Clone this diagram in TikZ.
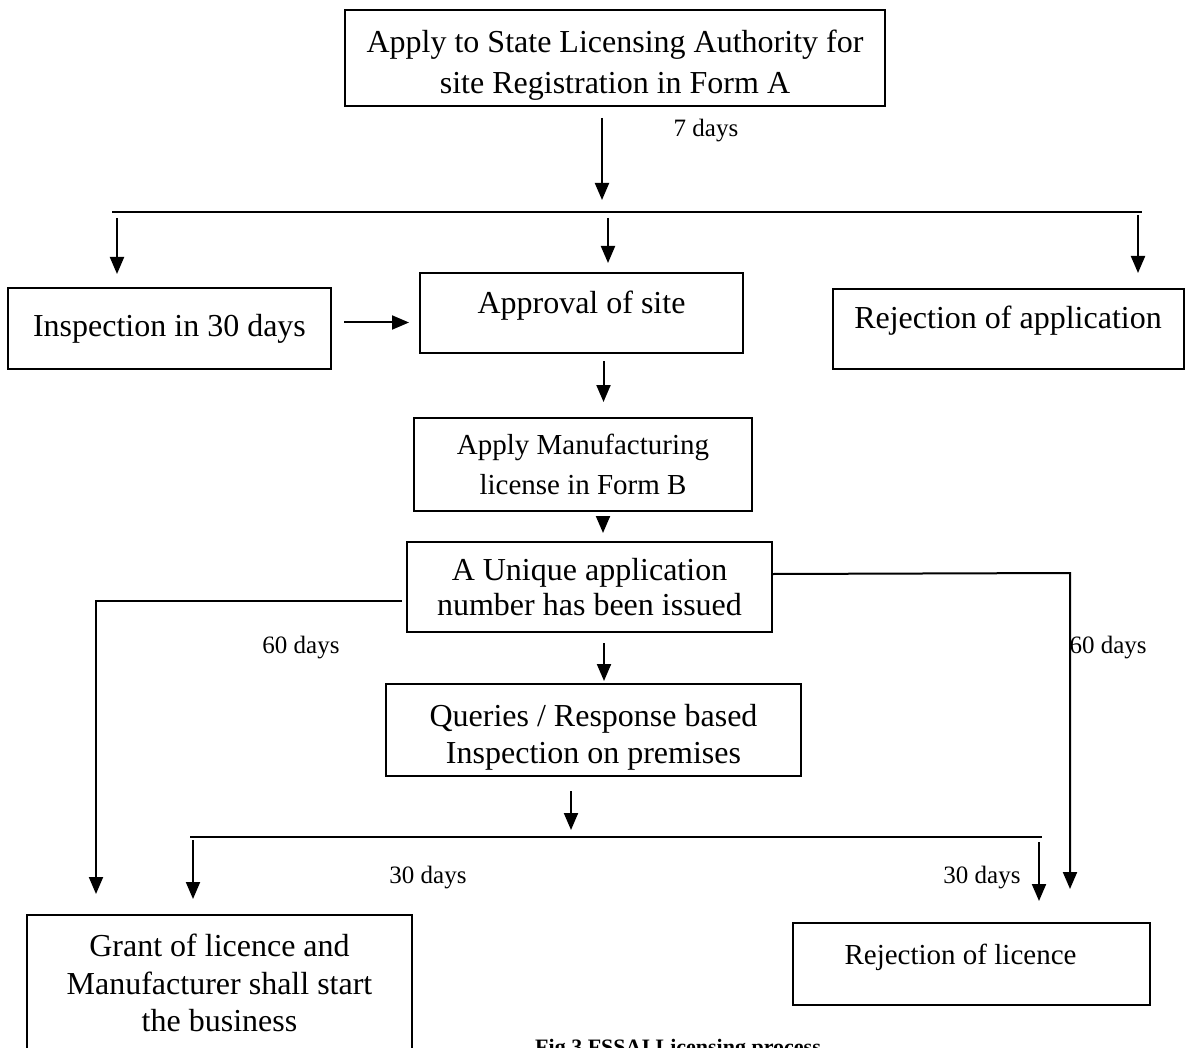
\documentclass[tikz,border=0pt]{standalone}
\usepackage{fontspec}
\setmainfont{Liberation Serif}
\usetikzlibrary{positioning,calc,arrows.meta}

\newcommand{\padtop}[1]{\rule{0pt}{#1}}

\begin{document}
\begin{tikzpicture}[x=1pt, y=-1pt,
    box/.style={draw, line width=2pt, align=center, inner sep=0pt, font=\fontsize{32}{38}\selectfont},
    raised/.style={text height=22pt, text depth=22pt},
    arr/.style={-{Triangle[length=17pt,width=14pt]}, line width=2pt},
    bus/.style={line width=2.2pt},
    days/.style={font=\fontsize{25}{30}\selectfont}]
    \useasboundingbox (0,0) rectangle (1185,1048);

    % boxes
    \node[box, minimum width=540pt, minimum height=96pt, font=\fontsize{32}{41}\selectfont] (apply) at (615,58)
        {\padtop{36pt}Apply to State Licensing Authority for\\site Registration in Form A};
    \node[box, minimum width=323pt, minimum height=81pt] (insp) at (169.5,328.5) {Inspection in 30 days};
    \node[box, raised, minimum width=323pt, minimum height=80pt] (site) at (581.5,313) {Approval of site};
    \node[box, raised, minimum width=351pt, minimum height=80pt] (rejapp) at (1008,329) {Rejection of application};
    \node[box, minimum width=338pt, minimum height=93pt, font=\fontsize{29}{40}\selectfont] (formb) at (583,464.5)
        {Apply Manufacturing\\license in Form B};
    \node[box, minimum width=365pt, minimum height=90pt, font=\fontsize{32}{35}\selectfont] (unique) at (589.5,587)
        {A Unique application\\number has been issued};
    \node[box, minimum width=415pt, minimum height=92pt, font=\fontsize{32}{37}\selectfont] (query) at (593.5,730)
        {\padtop{36pt}Queries / Response based\\Inspection on premises};
    \node[box, minimum width=385pt, minimum height=136pt, font=\fontsize{32}{37.5}\selectfont] (grant) at (219.5,983)
        {Grant of licence and\\Manufacturer shall start\\the business};
    \node[box, raised, minimum width=357pt, minimum height=82pt, font=\fontsize{29}{35}\selectfont] (rejlic) at (971.5,964)
        {Rejection of licence\hspace*{22pt}};

    % split after form A
    \coordinate (busAl) at (112,212);
    \coordinate (busAr) at (1142,212);
    \coordinate (inA) at (602,212);
    \coordinate (outA1) at (117,212);
    \coordinate (outA2) at (608,212);
    \coordinate (outA3) at (1138,212);
    \draw[bus] (busAl) -- (busAr);
    \draw[arr, shorten <=11pt, shorten >=12pt] (apply.south -| inA) -- (inA);
    \draw[arr, shorten <=6pt, shorten >=13pt] (outA1) -- (outA1 |- insp.north);
    \draw[arr, shorten <=6pt, shorten >=9pt] (outA2) -- (outA2 |- site.north);
    \draw[arr, shorten <=3pt, shorten >=15pt] (outA3) -- (outA3 |- rejapp.north);
    \node[days] (d7) at (706,131) {7 days};

    % site to licence
    \draw[arr, shorten <=12pt, shorten >=10pt] ([yshift=6pt]insp.east) -- ([yshift=6pt]insp.east -| site.west);
    \draw[arr, shorten <=7pt, shorten >=15pt] ([xshift=22pt]site.south) -- ([xshift=22pt]site.south |- formb.north);
    \draw[arr, shorten <=7pt, shorten >=8pt] ([xshift=20pt]formb.south) -- ([xshift=20pt]formb.south |- unique.north);
    \draw[arr, shorten <=10pt, shorten >=2pt] ([xshift=14.5pt]unique.south) -- ([xshift=14.5pt]unique.south |- query.north);

    % 60 days branches
    \coordinate (turnL) at (96,601);
    \coordinate (turnR) at (1070,573);
    \draw[arr, shorten >=20pt] ([yshift=-14pt, xshift=-4pt]unique.west) -- (turnL) -- (turnL |- grant.north);
    \draw[arr, shorten >=33pt] ([yshift=13pt]unique.east) -- (turnR) -- (turnR |- rejlic.north);
    \node[days] (d60l) at (301,648) {60 days};
    \node[days, anchor=west] (d60r) at (1066,648) {60 days};

    % split after inspection
    \coordinate (busBl) at (190,837);
    \coordinate (busBr) at (1042,837);
    \coordinate (inB) at (571,837);
    \coordinate (outB1) at (193,837);
    \coordinate (outB2) at (1039,837);
    \draw[bus] (busBl) -- (busBr);
    \draw[arr, shorten <=14pt, shorten >=7pt] (query.south -| inB) -- (inB);
    \draw[arr, shorten <=3pt, shorten >=15pt] (outB1) -- (outB1 |- grant.north);
    \draw[arr, shorten <=5pt, shorten >=21pt] (outB2) -- (outB2 |- rejlic.north);
    \node[days] (d30l) at (428,878) {30 days};
    \node[days] (d30r) at (982,878) {30 days};

    % caption
    \node[anchor=base west, inner sep=0pt, font=\fontsize{22}{26}\selectfont\bfseries] (cap) at (535,1054)
        {Fig 3 FSSAI Licensing process};
\end{tikzpicture}
\end{document}
